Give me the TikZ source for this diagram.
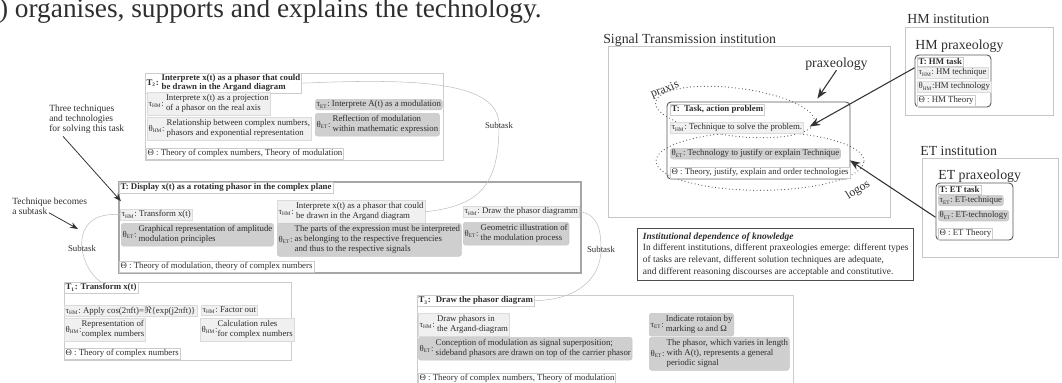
\documentclass[tikz,border=0pt]{standalone}
\usepackage{fontspec}
\setmainfont{Liberation Serif}
\usetikzlibrary{positioning,arrows.meta,fit,calc}

\newcommand{\headfont}{\fontsize{20.5}{22}\selectfont}
\newcommand{\boxfont}{\fontsize{6.6}{7.6}\selectfont}
\newcommand{\titlefont}{\fontsize{6.6}{7.4}\selectfont\bfseries}
\newcommand{\tighttitlefont}{\fontsize{6.6}{6.2}\selectfont\bfseries}
\newcommand{\annotfont}{\fontsize{7.1}{7.2}\selectfont}
\newcommand{\notefont}{\fontsize{7.1}{8.8}\selectfont}
\newcommand{\labelfont}{\fontsize{10.4}{12}\selectfont}
\newcommand{\subsc}[1]{\textsubscript{\fontsize{4}{4}\selectfont #1}}
\newcommand{\tauhm}{τ\subsc{HM}:}
\newcommand{\tauet}{τ\subsc{ET}:}
\newcommand{\thetahm}{θ\subsc{HM}:}
\newcommand{\thetaet}{θ\subsc{ET}:}
\newcommand{\twolines}[2]{\begin{tabular}[c]{@{}l@{}}#1\\#2\end{tabular}}
\newcommand{\threelines}[3]{\begin{tabular}[c]{@{}l@{}}#1\\#2\\#3\end{tabular}}

\begin{document}
\begin{tikzpicture}[
  x=0.75pt, y=-0.75pt,
  >=Stealth,
  every node/.style={text=black!82},
  boxtext/.style={anchor=north west, inner xsep=1pt, inner ysep=1pt, font=\boxfont},
  hmbox/.style={boxtext, draw=gray!28, fill=gray!12},
  etbox/.style={boxtext, draw=gray!45, fill=gray!38, rounded corners=2pt},
  theorybox/.style={boxtext, draw=gray!40, fill=white},
  taskhead/.style={boxtext, draw=gray!40, fill=white, font=\titlefont},
  taskframe/.style={draw=gray!40, line width=0.6pt, inner sep=0pt},
  mainframe/.style={draw=gray!70, line width=1pt, inner sep=0pt},
  praxframe/.style={draw=black!65, line width=0.7pt, rounded corners=3pt, inner sep=0pt},
  instframe/.style={draw=gray!45, line width=0.6pt, inner sep=0pt},
  biglabel/.style={font=\labelfont, inner sep=0pt, anchor=base west},
  annot/.style={font=\annotfont, align=left, inner sep=0pt, anchor=north west},
  sublabel/.style={font=\boxfont, inner sep=1pt},
  subtaskline/.style={draw=gray!50, line width=0.4pt},
  pointer/.style={-{Stealth[length=6pt,width=4.5pt]}, draw=black!80, line width=0.6pt},
  bigpointer/.style={-{Stealth[length=8pt,width=6pt]}, draw=black!80, line width=0.8pt},
  dotline/.style={draw=black!65, line width=0.9pt, line cap=round, dash pattern=on 0pt off 2.6pt},
  notebox/.style={anchor=north west, draw=black!70, line width=0.8pt, align=left, font=\notefont, inner xsep=4pt, inner ysep=3pt, minimum width=206pt}
]
  \useasboundingbox (0,0) rectangle (1062,382);
  \clip (0,0) rectangle (1062,382);

  % heading, cut off at the top
  \node[anchor=base west, inner sep=0pt, font=\headfont] (headline) at (-21,17) {O) organises, supports and explains the technology.};

  % subtask T2
  \node[taskframe, fit={(145,73) (443,160)}] (T2frame) {};
  \node[taskhead, font=\tighttitlefont] (T2head) at (145,73) {T\subsc{2}: \twolines{Interprete x(t) as a phasor that could}{be drawn in the Argand diagram}};
  \node[hmbox] (T2tau) at (147,92) {\tauhm\ \twolines{Interprete x(t) as a projection}{of a phasor on the real axis}};
  \node[hmbox] (T2theta) at (147,117) {\thetahm\ \twolines{Relationship between complex numbers,}{phasors and exponential representation}};
  \node[etbox] (T2tauet) at (315,99) {\tauet\ Interprete A(t) as a modulation};
  \node[etbox] (T2thetaet) at (315,113) {\thetaet\ \twolines{Reflection of modulation}{within mathematic expression}};
  \node[theorybox] (T2theory) at (146,148) {Θ : Theory of complex numbers, Theory of modulation};

  % main task T
  \node[mainframe, fit={(119,182) (581,273)}] (Tframe) {};
  \node[taskhead] (Thead) at (119,182) {T: Display x(t) as a rotating phasor in the complex plane};
  \node[hmbox] (tauA) at (120,209) {\tauhm\ Transform x(t)};
  \node[hmbox] (tauB) at (277,200) {\tauhm\ \twolines{Interprete x(t) as a phasor that could}{be drawn in the Argand diagram}};
  \node[hmbox] (tauC) at (463,206) {\tauhm\ Draw the phasor diagramm};
  \node[etbox] (thetaA) at (121,223) {\thetaet\ \twolines{Graphical representation of amplitude}{modulation principles}};
  \node[etbox] (thetaB) at (277,223) {\thetaet\ \threelines{The parts of the expression must be interpreted}{as belonging to the respective frequencies}{and thus to the respective signals}};
  \node[etbox] (thetaC) at (463,222) {\thetaet\ \twolines{Geometric illustration of}{the modulation process}};
  \node[theorybox] (Ttheory) at (119,261) {Θ : Theory of modulation, theory of complex numbers};

  % subtask T1
  \node[taskframe, fit={(64,282) (291,360)}] (T1frame) {};
  \node[taskhead] (T1head) at (64,282) {T\subsc{1}: Transform x(t)};
  \node[hmbox] (T1tauA) at (64,305) {\tauhm\ Apply cos(2πft)=$\Re$\{exp(j2πft)\}};
  \node[hmbox] (T1tauB) at (201,305) {\tauhm\ Factor out};
  \node[hmbox] (T1thetaA) at (64,318) {\thetahm\twolines{Representation of}{complex numbers}};
  \node[hmbox] (T1thetaB) at (200,318) {\thetahm\twolines{Calculation rules}{for complex numbers}};
  \node[theorybox] (T1theory) at (64,348) {Θ : Theory of complex numbers};

  % subtask T3
  \node[taskframe, fit={(417,295) (793,395)}] (T3frame) {};
  \node[taskhead] (T3head) at (417,295) {T\subsc{3}:~ Draw the phasor diagram};
  \node[hmbox] (T3tau) at (418,313) {\tauhm\ \twolines{Draw phasors in}{the Argand-diagram}};
  \node[etbox] (T3theta) at (418,337) {\thetaet\ \twolines{Conception of modulation as signal superposition;}{sideband phasors are drawn on top of the carrier phasor}};
  \node[etbox] (T3tauet) at (649,313) {\tauet\ \twolines{Indicate rotaion by}{marking ω and Ω}};
  \node[etbox] (T3thetaet) at (649,337) {\thetaet\ \threelines{The phasor, which varies in length}{with A(t), represents a general}{periodic signal}};
  \node[theorybox] (T3theory) at (418,373) {Θ : Theory of complex numbers, Theory of modulation};

  % subtask links
  \coordinate (subAc) at (82,248);
  \coordinate (subBc) at (499,125);
  \coordinate (subCc) at (601,249);
  \draw[subtaskline] (tauA.west) .. controls (88,212) and (80,232) .. (subAc) .. controls (84,264) and (92,276) .. (T1head.north);
  \draw[subtaskline] (T2head.east) .. controls (420,78) and (499,82) .. (subBc) .. controls (499,185) and (480,206) .. (tauB.east);
  \draw[subtaskline] (tauC.east) .. controls (597,214) and (601,228) .. (subCc) .. controls (601,278) and (578,300) .. (T3head.east);
  \node[sublabel] (subA) at (subAc) {Subtask};
  \node[sublabel] (subB) at (subBc) {Subtask};
  \node[sublabel] (subC) at (subCc) {Subtask};

  % annotations
  \node[annot] (annotA) at (49,105) {Three techniques\\and technologies\\for solving this task};
  \node[annot] (annotB) at (12,198) {Technique becomes\\a subtask};
  \coordinate (subtaskTip) at (78,229);
  \draw[pointer] ($(annotA.south west)+(14,3)$) -- ($(Thead.south west)+(2,8)$);
  \draw[pointer] ($(annotB.south west)+(37,-2)$) -- (subtaskTip);

  % signal transmission institution
  \node[biglabel] (STlabel) at (603,43) {Signal Transmission institution};
  \node[instframe, fit={(608,46) (890,217)}] (STframe) {};
  \node[biglabel] (praxlabel) at (805,67) {praxeology};
  \node[praxframe, fit={(667,102) (850,179)}] (STprax) {};
  \draw[dotline, rotate around={-7:(735,112)}] (735,112) ellipse [x radius=60pt, y radius=18pt];
  \draw[dotline] (760,161) ellipse [x radius=78pt, y radius=22pt];
  \node[taskhead] (SThead) at (670,104) {T:~ Task, action problem};
  \node[hmbox] (STtau) at (670,122) {\tauhm\ Technique to solve the problem.};
  \node[etbox] (STtheta) at (670,148) {\thetaet\ Technology to justify or explain Technique};
  \node[theorybox] (STtheory) at (670,167) {Θ : Theory, justify, explain and order technologies};
  \node[font=\fontsize{9}{10}\selectfont, inner sep=0pt, rotate=22] (praxislabel) at (665,90) {praxis};
  \node[font=\fontsize{9}{10}\selectfont, inner sep=0pt, rotate=32] (logoslabel) at (858,190) {logos};
  \draw[bigpointer] (praxlabel.south) -- ($(STprax.north east)!0.18!(STprax.north west)+(0,-3)$);

  % HM institution
  \node[biglabel] (HMlabel) at (907,23) {HM institution};
  \node[instframe, fit={(905,27) (1053,115)}] (HMframe) {};
  \node[biglabel] (HMpraxlabel) at (915,49) {HM praxeology};
  \node[praxframe, fit={(915,55) (991,107)}] (HMprax) {};
  \node[taskhead] (HMhead) at (917,57) {T: HM task};
  \node[hmbox] (HMtau) at (917,67) {\tauhm\ HM technique};
  \node[hmbox] (HMtheta) at (917,81) {\thetahm HM technology};
  \node[theorybox] (HMtheory) at (917,95) {Θ : HM Theory};

  % ET institution
  \node[biglabel] (ETlabel) at (920,155) {ET institution};
  \node[instframe, fit={(922,158) (1058,257)}] (ETframe) {};
  \node[biglabel] (ETpraxlabel) at (938,179) {ET praxeology};
  \node[praxframe, fit={(936,183) (1013,240)}] (ETprax) {};
  \node[taskhead] (EThead) at (938,185) {T: ET task};
  \node[etbox] (ETtau) at (938,195) {\tauet\ ET-technique};
  \node[etbox] (ETtheta) at (938,210) {\thetaet\ ET-technology};
  \node[theorybox] (ETtheory) at (938,228) {Θ : ET Theory};

  \draw[bigpointer] ($(HMprax.north west)!0.25!(HMprax.south west)$) -- ($(STtau.east)+(6,-1)$);
  \draw[bigpointer] ($(ETprax.north west)!0.6!(ETprax.south west)$) -- ($(STtheta.south east)+(9,1)$);

  % note on institutional dependence
  \node[notebox] (instnote) at (637,228) {\textbf{\textit{Institutional dependence of knowledge}}\\In different institutions, different praxeologies emerge: different types\\of tasks are relevant, different solution techniques are adequate,\\and different reasoning discourses are acceptable and constitutive.};
\end{tikzpicture}
\end{document}
